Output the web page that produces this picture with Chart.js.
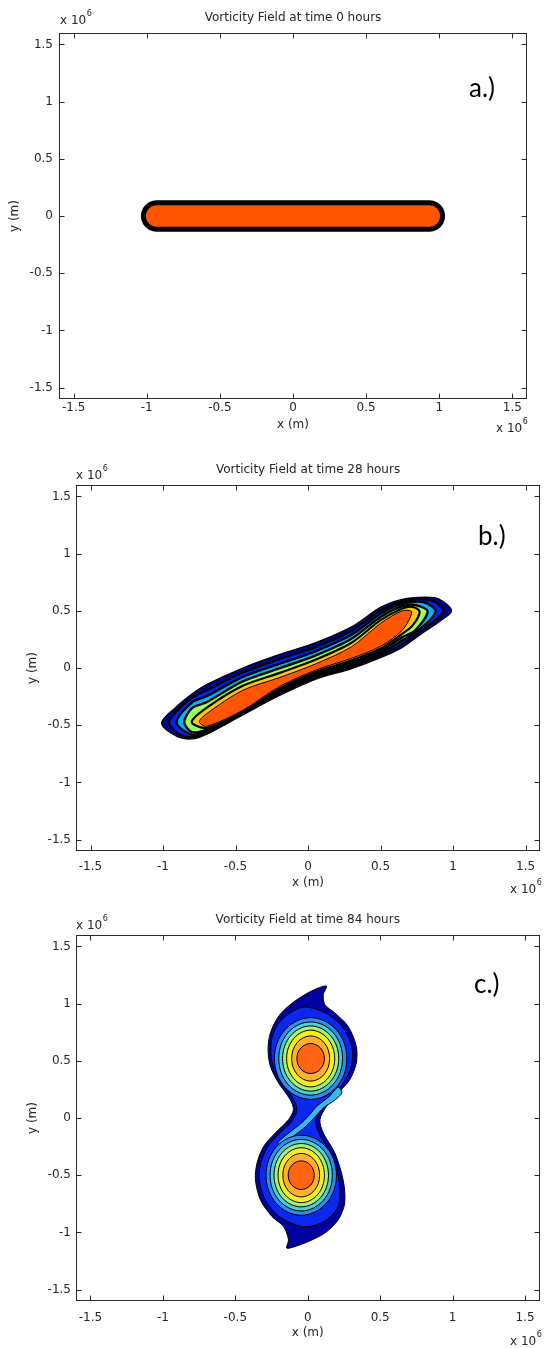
<!DOCTYPE html>
<html>
<head>
<meta charset="utf-8">
<script src="https://cdn.jsdelivr.net/npm/chart.js@4.4.1/dist/chart.umd.min.js"></script>
<style>
  html, body { margin: 0; padding: 0; background: #ffffff; }
  #wrap { position: relative; width: 544px; height: 1348px; overflow: hidden; background: #ffffff; }
  canvas { position: absolute; left: 0; }
</style>
</head>
<body>
<div id="wrap">
  <canvas id="panelA" width="544" height="450" style="top:0px"></canvas>
  <canvas id="panelB" width="544" height="450" style="top:450px"></canvas>
  <canvas id="panelC" width="544" height="448" style="top:900px"></canvas>
</div>
<script>
// ---------- axis ticks (units of 10^6 m) ----------
const axisTicks = [-1.5, -1, -0.5, 0, 0.5, 1, 1.5];
const axisMin = -1.6;
const axisMax = 1.6;

const panelTitles = [
  'Vorticity Field at time 0 hours',
  'Vorticity Field at time 28 hours',
  'Vorticity Field at time 84 hours'
];
const panelTags = ['a.)', 'b.)', 'c.)'];

// ---------- t = 0 h : initial vorticity strip (x, y in 10^6 m) ----------
const strip0h = [
  [-0.932, 0.116], [0.932, 0.116], [0.956, 0.112], [0.978, 0.100], [0.996, 0.082],
  [1.011, 0.058], [1.020, 0.030], [1.023, 0.000], [1.020, -0.030], [1.011, -0.058],
  [0.996, -0.082], [0.978, -0.100], [0.956, -0.112], [0.932, -0.116],
  [-0.932, -0.116], [-0.956, -0.112], [-0.978, -0.100], [-0.996, -0.082],
  [-1.011, -0.058], [-1.020, -0.030], [-1.023, 0.000], [-1.020, 0.030],
  [-1.011, 0.058], [-0.996, 0.082], [-0.978, 0.100], [-0.956, 0.112]
];

// ---------- t = 28 h : contour levels, outermost first ----------
const strip28hLevel0 = [
  [-1.01, -0.48], [-0.90, -0.33], [-0.80, -0.227], [-0.70, -0.145], [-0.45, 0.0],
  [-0.20, 0.117], [0.05, 0.22], [0.30, 0.36], [0.50, 0.53], [0.65, 0.60],
  [0.80, 0.62], [0.90, 0.605], [0.99, 0.50], [0.90, 0.40], [0.80, 0.315],
  [0.65, 0.18], [0.50, 0.09], [0.30, -0.006], [0.05, -0.10], [-0.20, -0.243],
  [-0.45, -0.41], [-0.70, -0.58], [-0.80, -0.62], [-0.90, -0.60]
];
const strip28hLevel1 = [
  [-0.958, -0.478], [-0.90, -0.37], [-0.80, -0.26], [-0.70, -0.196], [-0.45, -0.039],
  [-0.20, 0.077], [0.05, 0.183], [0.30, 0.325], [0.50, 0.502], [0.65, 0.58],
  [0.80, 0.60], [0.88, 0.575], [0.935, 0.498], [0.88, 0.42], [0.80, 0.34],
  [0.65, 0.21], [0.50, 0.11], [0.30, 0.012], [0.05, -0.084], [-0.20, -0.227],
  [-0.45, -0.402], [-0.70, -0.566], [-0.80, -0.605], [-0.90, -0.57]
];
const strip28hLevel2 = [
  [-0.906, -0.476], [-0.80, -0.30], [-0.70, -0.247], [-0.45, -0.078], [-0.20, 0.036],
  [0.05, 0.146], [0.30, 0.290], [0.50, 0.474], [0.65, 0.56], [0.80, 0.575],
  [0.88, 0.496], [0.80, 0.37], [0.65, 0.24], [0.50, 0.13], [0.30, 0.030],
  [0.05, -0.068], [-0.20, -0.212], [-0.45, -0.394], [-0.70, -0.552], [-0.80, -0.585]
];
const strip28hLevel3 = [
  [-0.854, -0.474], [-0.80, -0.35], [-0.70, -0.298], [-0.45, -0.117], [-0.20, -0.004],
  [0.05, 0.109], [0.30, 0.256], [0.50, 0.446], [0.65, 0.54], [0.74, 0.55],
  [0.825, 0.494], [0.74, 0.33], [0.65, 0.27], [0.50, 0.15], [0.30, 0.049],
  [0.05, -0.052], [-0.20, -0.196], [-0.45, -0.386], [-0.70, -0.538], [-0.80, -0.56]
];
const strip28hLevel4 = [
  [-0.802, -0.472], [-0.70, -0.349], [-0.45, -0.156], [-0.20, -0.045], [0.05, 0.072],
  [0.30, 0.221], [0.50, 0.418], [0.65, 0.52], [0.72, 0.535], [0.77, 0.492],
  [0.72, 0.37], [0.65, 0.30], [0.50, 0.17], [0.30, 0.067], [0.05, -0.036],
  [-0.20, -0.181], [-0.45, -0.378], [-0.70, -0.524]
];
const strip28hCore = [
  [-0.75, -0.47], [-0.70, -0.40], [-0.45, -0.195], [-0.20, -0.085], [0.05, 0.035],
  [0.30, 0.186], [0.50, 0.39], [0.65, 0.50], [0.715, 0.49], [0.65, 0.33],
  [0.50, 0.19], [0.30, 0.085], [0.05, -0.02], [-0.20, -0.165], [-0.45, -0.37],
  [-0.70, -0.51]
];

// ---------- t = 84 h : two vortices joined by a filament ----------
const pair84hOuter = [
  [0.130, 1.152], [0.073, 1.137], [-0.019, 1.079], [-0.121, 0.991], [-0.201, 0.889],
  [-0.258, 0.744], [-0.274, 0.598], [-0.258, 0.452], [-0.201, 0.306], [-0.121, 0.160],
  [-0.099, 0.073], [-0.133, -0.015], [-0.224, -0.131], [-0.304, -0.248], [-0.350, -0.394],
  [-0.361, -0.540], [-0.327, -0.715], [-0.247, -0.861], [-0.167, -0.948], [-0.133, -1.065],
  [-0.145, -1.137], [-0.087, -1.123], [0.004, -1.080], [0.118, -1.006], [0.210, -0.890],
  [0.255, -0.744], [0.244, -0.540], [0.187, -0.306], [0.107, -0.131], [0.084, -0.015],
  [0.130, 0.102], [0.210, 0.219], [0.290, 0.335], [0.335, 0.481], [0.335, 0.627],
  [0.278, 0.802], [0.187, 0.919], [0.118, 0.991], [0.107, 1.079]
];
const pair84hLevel1 = [
  [-0.03, 0.97], [-0.12, 0.92], [-0.20, 0.83], [-0.245, 0.71], [-0.255, 0.59],
  [-0.24, 0.46], [-0.185, 0.32], [-0.10, 0.17], [-0.075, 0.07], [-0.11, -0.03],
  [-0.20, -0.14], [-0.28, -0.26], [-0.325, -0.40], [-0.335, -0.54], [-0.30, -0.70],
  [-0.225, -0.83], [-0.13, -0.91], [-0.03, -0.95], [0.07, -0.93], [0.17, -0.85],
  [0.22, -0.73], [0.215, -0.54], [0.16, -0.31], [0.08, -0.14], [0.055, -0.02],
  [0.10, 0.10], [0.18, 0.21], [0.26, 0.33], [0.305, 0.48], [0.305, 0.62],
  [0.25, 0.78], [0.16, 0.89], [0.06, 0.95]
];
const pair84hFilament = [
  [0.21, 0.27], [0.15, 0.19], [0.06, 0.10], [0.02, 0.04], [-0.04, -0.04],
  [-0.13, -0.13], [-0.21, -0.22], [-0.18, -0.23], [-0.09, -0.15], [-0.01, -0.07],
  [0.05, 0.01], [0.11, 0.09], [0.19, 0.16], [0.235, 0.22]
];
// upper vortex rings, outer to inner
const upperVortexRings = [
  [[0.27, 0.52], [0.197, 0.772], [0.02, 0.877], [-0.157, 0.772], [-0.23, 0.52], [-0.157, 0.268], [0.02, 0.163], [0.197, 0.268]],
  [[0.24, 0.52], [0.176, 0.746], [0.02, 0.84], [-0.136, 0.746], [-0.20, 0.52], [-0.136, 0.294], [0.02, 0.20], [0.176, 0.294]],
  [[0.214, 0.52], [0.157, 0.721], [0.02, 0.805], [-0.117, 0.721], [-0.174, 0.52], [-0.117, 0.319], [0.02, 0.235], [0.157, 0.319]],
  [[0.186, 0.52], [0.137, 0.695], [0.02, 0.768], [-0.097, 0.695], [-0.146, 0.52], [-0.097, 0.345], [0.02, 0.272], [0.137, 0.345]],
  [[0.151, 0.52], [0.113, 0.659], [0.02, 0.717], [-0.073, 0.659], [-0.111, 0.52], [-0.073, 0.381], [0.02, 0.323], [0.113, 0.381]],
  [[0.115, 0.52], [0.087, 0.613], [0.02, 0.651], [-0.047, 0.613], [-0.075, 0.52], [-0.047, 0.427], [0.02, 0.389], [0.087, 0.427]]
];
// lower vortex rings, outer to inner
const lowerVortexRings = [
  [[0.198, -0.50], [0.127, -0.253], [-0.045, -0.15], [-0.217, -0.253], [-0.288, -0.50], [-0.217, -0.747], [-0.045, -0.85], [0.127, -0.747]],
  [[0.17, -0.50], [0.107, -0.279], [-0.045, -0.187], [-0.197, -0.279], [-0.26, -0.50], [-0.197, -0.721], [-0.045, -0.813], [0.107, -0.721]],
  [[0.143, -0.50], [0.088, -0.304], [-0.045, -0.223], [-0.178, -0.304], [-0.233, -0.50], [-0.178, -0.696], [-0.045, -0.777], [0.088, -0.696]],
  [[0.115, -0.50], [0.068, -0.33], [-0.045, -0.26], [-0.158, -0.33], [-0.205, -0.50], [-0.158, -0.67], [-0.045, -0.74], [0.068, -0.67]],
  [[0.082, -0.50], [0.045, -0.366], [-0.045, -0.31], [-0.135, -0.366], [-0.172, -0.50], [-0.135, -0.634], [-0.045, -0.69], [0.045, -0.634]],
  [[0.045, -0.50], [0.019, -0.412], [-0.045, -0.375], [-0.109, -0.412], [-0.135, -0.50], [-0.109, -0.588], [-0.045, -0.625], [0.019, -0.588]]
];

// ---------- styling ----------
const TEXT = '#262626';
const SMALL_FONT = { family: '"DejaVu Sans", sans-serif', size: 12 };
const strip28hColors = ['#00008c', '#0022ff', '#00b4ff', '#9cff60', '#ffc800', '#ff5500'];
const strip28hLineWidths = [1.2, 2.4, 2.4, 2.4, 2.2, 1];
const pairRingColors = ['#2c8cf0', '#4cd0d8', '#a8f070', '#f4f020', '#ffb030', '#ff6414'];

function contour(points, fillColor, lineColor, lineWidth, tension) {
  return {
    data: points.map(p => ({ x: p[0], y: p[1] })),
    showLine: true,
    fill: 'shape',
    backgroundColor: fillColor,
    borderColor: lineColor,
    borderWidth: lineWidth,
    borderJoinStyle: 'round',
    pointRadius: 0,
    pointHoverRadius: 0,
    tension: tension
  };
}

// every contour is a closed curve: let the line element wrap around
const closedContours = {
  id: 'closedContours',
  afterDatasetsUpdate(chart) {
    chart.data.datasets.forEach((ds, i) => {
      const line = chart.getDatasetMeta(i).dataset;
      if (!line) return;
      line._loop = true;
      line._fullLoop = true;
      line._segments = undefined;
      line._path = undefined;
      line._pointsUpdated = false;
    });
  }
};

// boxed axes with inward ticks on all sides, exponent labels and panel tag
const matlabFrame = {
  id: 'matlabFrame',
  afterDatasetsDraw(chart) {
    const { ctx, chartArea: a, scales: { x, y } } = chart;
    const L = Math.round(a.left) + 0.5, R = Math.round(a.right) - 0.5;
    const T = Math.round(a.top) + 0.5, B = Math.round(a.bottom) - 0.5;
    ctx.save();
    ctx.strokeStyle = '#2a2a2a';
    ctx.lineWidth = 1;
    ctx.strokeRect(L, T, R - L, B - T);
    ctx.beginPath();
    x.ticks.forEach(t => {
      const px = Math.round(x.getPixelForValue(t.value)) + 0.5;
      ctx.moveTo(px, B); ctx.lineTo(px, B - 5);
      ctx.moveTo(px, T); ctx.lineTo(px, T + 5);
    });
    y.ticks.forEach(t => {
      const py = Math.round(y.getPixelForValue(t.value)) + 0.5;
      ctx.moveTo(L, py); ctx.lineTo(L + 5, py);
      ctx.moveTo(R, py); ctx.lineTo(R - 5, py);
    });
    ctx.stroke();
    ctx.restore();
  },
  afterDraw(chart, args, opts) {
    const ctx = chart.ctx;
    ctx.save();
    ctx.fillStyle = TEXT;
    ctx.textBaseline = 'alphabetic';
    ctx.textAlign = 'left';
    const expo = (px, base) => {
      ctx.font = '12px "DejaVu Sans", sans-serif';
      ctx.fillText('x 10', px, base);
      const w = ctx.measureText('x 10').width;
      ctx.font = '8px "DejaVu Sans", sans-serif';
      ctx.fillText('6', px + w + 0.5, base - 8);
    };
    expo(opts.expTop[0], opts.expTop[1]);
    expo(opts.expBottom[0], opts.expBottom[1]);
    ctx.fillStyle = '#000000';
    ctx.font = '26px Lato, "Open Sans", sans-serif';
    ctx.fillText(opts.tag, opts.tagPos[0], opts.tagPos[1]);
    ctx.restore();
  }
};

function makePanel(canvasId, datasets, box) {
  const canvas = document.getElementById(canvasId);
  const W = canvas.width, H = canvas.height;
  return new Chart(canvas, {
    type: 'scatter',
    data: { datasets: datasets.slice().reverse() },
    options: {
      responsive: false,
      animation: false,
      devicePixelRatio: 1,
      events: [],
      layout: { padding: { left: 0, top: 0, right: W - box.right, bottom: 0 } },
      plugins: {
        legend: { display: false },
        tooltip: { enabled: false },
        title: {
          display: true,
          text: box.title,
          fullSize: false,
          color: TEXT,
          font: { family: SMALL_FONT.family, size: 12, weight: 'normal' },
          padding: { top: box.titleTop, bottom: box.top - 14.4 - box.titleTop }
        },
        matlabFrame: { expTop: box.expTop, expBottom: box.expBottom, tag: box.tag, tagPos: box.tagPos }
      },
      scales: {
        x: {
          type: 'linear', min: axisMin, max: axisMax,
          afterBuildTicks: s => { s.ticks = axisTicks.map(v => ({ value: v })); },
          afterFit: s => { s.height = H - box.bottom; },
          grid: { display: false, drawTicks: false },
          border: { display: false },
          ticks: { font: SMALL_FONT, color: TEXT, padding: box.xTickPad, maxRotation: 0, autoSkip: false, callback: v => String(v) },
          title: { display: true, text: 'x (m)', font: SMALL_FONT, color: TEXT, padding: { top: 0, bottom: box.xTitlePad } }
        },
        y: {
          type: 'linear', min: axisMin, max: axisMax,
          afterBuildTicks: s => { s.ticks = axisTicks.map(v => ({ value: v })); },
          afterFit: s => { s.width = box.left; },
          grid: { display: false, drawTicks: false },
          border: { display: false },
          ticks: { font: SMALL_FONT, color: TEXT, padding: box.yTickPad, autoSkip: false, callback: v => String(v) },
          title: { display: true, text: 'y (m)', font: SMALL_FONT, color: TEXT, padding: { top: box.yTitlePad, bottom: 0 } }
        }
      }
    },
    plugins: [closedContours, matlabFrame]
  });
}

// ---------- panel a ----------
makePanel('panelA', [
  contour(strip0h, '#ff5500', '#000000', 5, 0)
], {
  title: panelTitles[0], tag: panelTags[0],
  left: 59, right: 527, top: 33, bottom: 399, titleTop: 10.8,
  xTickPad: 1.8, xTitlePad: 18.2, yTickPad: 6, yTitlePad: 7.8,
  expTop: [60, 24], expBottom: [496, 432], tagPos: [469, 97]
});

// ---------- panel b ----------
const strip28hLevels = [strip28hLevel0, strip28hLevel1, strip28hLevel2, strip28hLevel3, strip28hLevel4, strip28hCore];
makePanel('panelB', strip28hLevels.map((pts, i) =>
  contour(pts, strip28hColors[i], '#000000', strip28hLineWidths[i], 0.3)
), {
  title: panelTitles[1], tag: panelTags[1],
  left: 76, right: 543, top: 35, bottom: 401, titleTop: 12.4,
  xTickPad: 8.8, xTitlePad: 10.1, yTickPad: 5, yTitlePad: 25.8,
  expTop: [76, 29], expBottom: [510, 443], tagPos: [478, 95]
});

// ---------- panel c ----------
const pairDatasets = [
  contour(pair84hOuter, '#0000a0', '#000000', 1, 0.3),
  contour(pair84hLevel1, '#0a28f0', '#000000', 1, 0.3),
  contour(pair84hFilament, '#38b8f0', '#000000', 1, 0.3)
];
upperVortexRings.forEach((ring, i) => {
  pairDatasets.push(contour(ring, pairRingColors[i], '#000000', 1, 0.375));
  pairDatasets.push(contour(lowerVortexRings[i], pairRingColors[i], '#000000', 1, 0.375));
});
makePanel('panelC', pairDatasets, {
  title: panelTitles[2], tag: panelTags[2],
  left: 76, right: 543, top: 35, bottom: 401, titleTop: 12.4,
  xTickPad: 9.3, xTitlePad: 7.8, yTickPad: 5, yTitlePad: 25.8,
  expTop: [76, 29], expBottom: [510, 445], tagPos: [474, 93]
});
</script>
</body>
</html>
